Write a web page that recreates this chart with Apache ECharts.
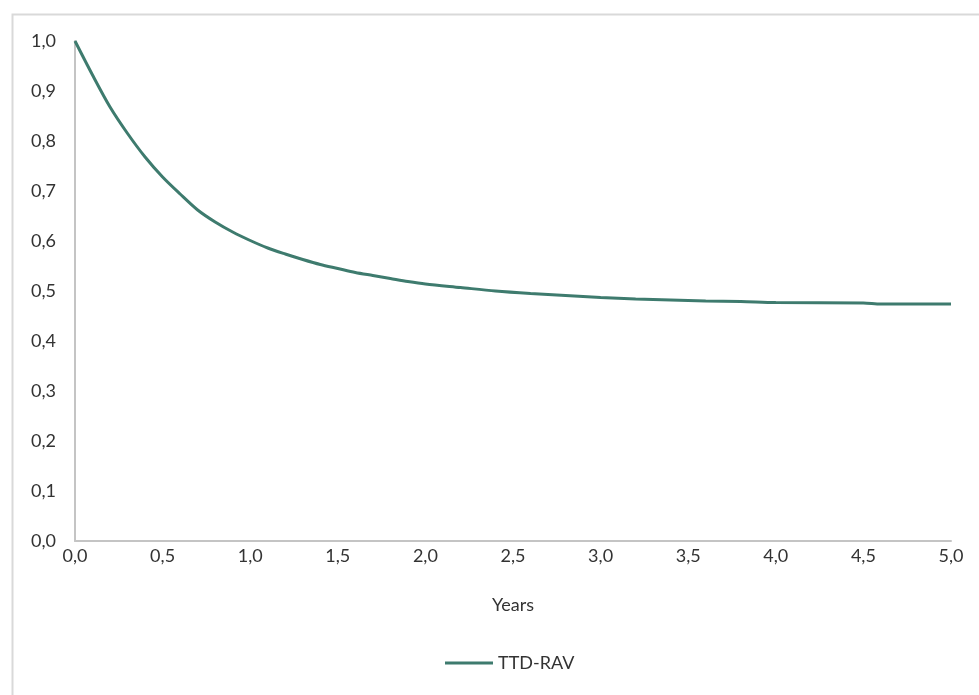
<!DOCTYPE html>
<html>
<head>
<meta charset="utf-8">
<script src="https://cdn.jsdelivr.net/npm/echarts@6/dist/echarts.min.js"></script>
<style>html,body{margin:0;padding:0;background:#fff;}#c{width:979px;height:695px;}</style>
</head>
<body>
<div id="c"></div>
<script>
var years = [0, 0.1, 0.2, 0.3, 0.4, 0.5, 0.6, 0.7, 0.8, 0.9, 1.0, 1.1, 1.2, 1.3, 1.4, 1.5, 1.6, 1.7, 1.8, 1.9, 2.0, 2.2, 2.4, 2.6, 2.8, 3.0, 3.2, 3.4, 3.6, 3.8, 4.0, 4.5, 4.6, 5.0];
var ttdRav = [1.000, 0.932, 0.868, 0.815, 0.768, 0.728, 0.694, 0.662, 0.638, 0.618, 0.601, 0.586, 0.574, 0.563, 0.553, 0.545, 0.537, 0.531, 0.525, 0.519, 0.514, 0.507, 0.500, 0.495, 0.491, 0.487, 0.484, 0.482, 0.480, 0.479, 0.477, 0.476, 0.474, 0.474];
var seriesName = 'TTD-RAV';
var xName = 'Years';

var fmt = function (v) { return v.toFixed(1).replace('.', ','); };
var font = 'Lato, "Open Sans", sans-serif';
var txt = '#333333';
var chart = echarts.init(document.getElementById('c'), null, {renderer: 'canvas'});
chart.setOption({
  animation: false,
  backgroundColor: '#fff',
  graphic: [{
    type: 'rect', left: 10, top: 12, silent: true,
    shape: {width: 1000, height: 720},
    style: {fill: 'none', stroke: '#d9d9d9', lineWidth: 2}
  }],
  grid: {left: 75, right: 28, top: 41, bottom: 154, containLabel: false},
  legend: {
    show: true, bottom: 18, left: 440,
    icon: 'rect', itemWidth: 48, itemHeight: 3, itemGap: 10,
    textStyle: {fontFamily: font, fontSize: 18, color: txt},
    data: [seriesName]
  },
  xAxis: {
    type: 'value', min: 0, max: 5, interval: 0.5,
    name: xName, nameLocation: 'middle', nameGap: 55,
    nameTextStyle: {fontFamily: font, fontSize: 18, color: txt},
    axisLine: {show: true, lineStyle: {color: '#c4c4c4', width: 2}},
    axisTick: {show: false},
    splitLine: {show: false},
    axisLabel: {formatter: fmt, fontFamily: font, fontSize: 18, color: txt, margin: 6}
  },
  yAxis: {
    type: 'value', min: 0, max: 1, interval: 0.1,
    axisLine: {show: true, lineStyle: {color: '#c4c4c4', width: 2}},
    axisTick: {show: false},
    splitLine: {show: false},
    axisLabel: {formatter: fmt, fontFamily: font, fontSize: 18, color: txt, margin: 19}
  },
  series: [{
    name: seriesName, type: 'line',
    data: years.map(function (x, i) { return [x, ttdRav[i]]; }),
    showSymbol: false, smooth: 0.3,
    lineStyle: {color: '#3e7b6e', width: 3},
    itemStyle: {color: '#3e7b6e'}
  }]
});
</script>
</body>
</html>
